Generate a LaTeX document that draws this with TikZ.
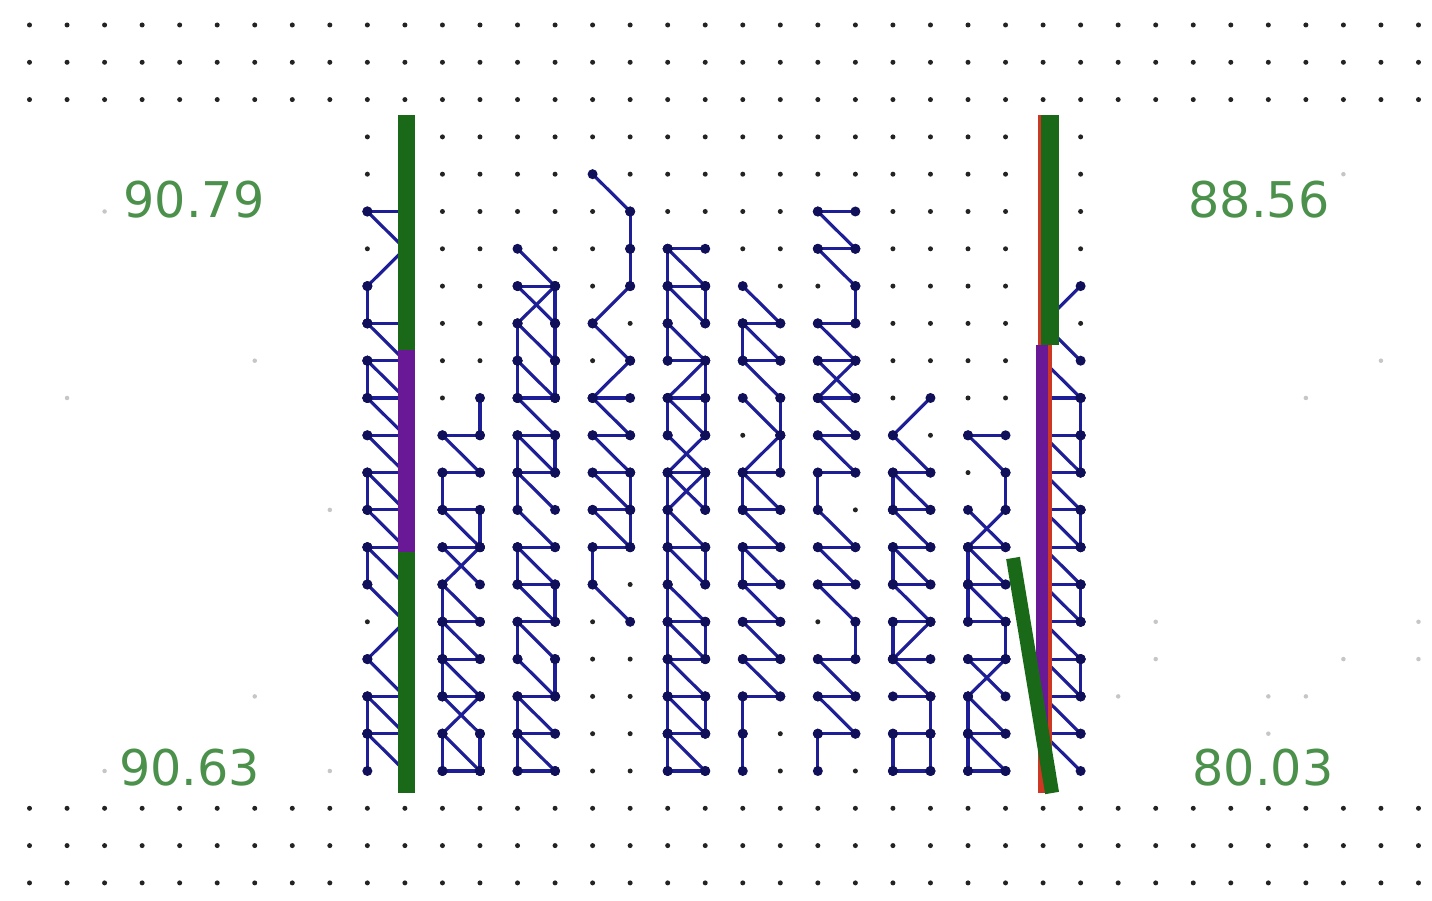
\documentclass[tikz,border=0pt]{standalone}
\usepackage{fontspec}
\setmainfont{DejaVu Sans}
\usepackage{tikz}
\definecolor{dotgrey}{RGB}{35,35,35}
\definecolor{trailblue}{RGB}{30,30,150}
\definecolor{stopblue}{RGB}{15,15,90}
\definecolor{bargreen}{RGB}{25,105,25}
\definecolor{barpurple}{RGB}{105,25,150}
\definecolor{barred}{RGB}{205,55,35}
\definecolor{scoregreen}{RGB}{75,145,75}

% edges of the ten trails, grid column-row
\def\trails{%
  9-5/10-5, 9-5/10-6, 10-6/9-7, 9-7/9-8, 9-8/10-8, 9-8/10-9, 9-9/10-9, 9-9/9-10,
  9-9/10-10, 9-10/10-10, 9-10/10-11, 9-11/10-11, 9-11/10-12, 9-12/10-12, 9-12/9-13,
  9-12/10-13, 9-13/10-13, 9-13/10-14, 9-14/10-14, 9-14/9-15, 9-14/10-15, 9-15/10-16,
  10-16/9-17, 9-17/10-18, 9-18/10-18, 9-18/9-19, 9-18/10-19, 9-19/10-19, 9-19/10-20,
  9-19/9-20,
  12-10/12-11, 11-11/12-11, 11-11/12-12, 11-12/12-12, 11-12/11-13, 11-13/12-13,
  11-13/12-14, 12-13/12-14, 11-14/12-14, 11-14/12-15, 12-14/11-15, 11-15/11-16,
  11-15/12-16, 11-16/12-16, 11-16/12-17, 11-16/11-17, 11-17/12-17, 11-17/11-18,
  11-17/12-18, 11-18/12-18, 11-18/12-19, 12-18/11-19, 11-19/11-20, 11-19/12-20,
  12-19/12-20, 11-20/12-20,
  13-6/14-7, 13-7/14-7, 13-7/14-8, 14-7/13-8, 14-7/14-8, 13-8/13-9, 13-8/14-9,
  14-8/14-9, 13-9/14-10, 13-9/13-10, 14-9/14-10, 13-10/14-10, 13-10/14-11, 13-11/14-11,
  13-11/13-12, 13-11/14-12, 14-11/14-12, 13-12/14-12, 13-12/14-13, 13-12/13-13,
  13-13/14-14, 13-14/14-14, 13-14/13-15, 13-14/14-15, 13-15/14-15, 13-15/14-16,
  14-15/14-16, 13-16/14-16, 13-16/13-17, 13-16/14-17, 13-17/14-18, 14-17/14-18,
  13-18/14-18, 13-18/13-19, 13-18/14-19, 13-19/14-19, 13-19/13-20, 13-19/14-20,
  13-20/14-20,
  15-4/16-5, 16-5/16-6, 16-6/16-7, 16-7/15-8, 15-8/16-9, 16-9/15-10, 15-10/16-10,
  15-10/16-11, 15-11/16-11, 15-11/16-12, 15-12/16-12, 16-12/16-13, 15-12/16-13,
  15-13/16-13, 15-13/16-14, 16-13/16-14, 15-14/16-14, 15-14/15-15, 15-15/16-16,
  17-6/18-6, 17-6/17-7, 17-6/18-7, 17-7/18-7, 17-7/18-8, 18-7/18-8, 17-7/17-8,
  17-8/18-9, 17-8/17-9, 17-9/18-9, 18-9/18-10, 18-9/17-10, 17-10/18-10,
  17-10/18-11, 17-10/17-11, 18-10/18-11, 17-11/18-12, 18-11/17-12, 17-12/18-12,
  17-12/18-13, 18-12/17-13, 17-12/17-13, 18-12/18-13, 17-13/18-14, 17-13/17-14,
  17-14/18-14, 17-14/18-15, 17-14/17-15, 18-14/18-15, 17-15/18-16, 17-15/17-16,
  17-16/18-16, 17-16/18-17, 18-16/18-17, 17-16/17-17, 17-17/18-17, 17-17/18-18,
  17-17/17-18, 17-18/18-18, 17-18/18-19, 17-18/17-19, 18-18/18-19, 17-19/18-19,
  17-19/18-20, 17-19/17-20, 17-20/18-20,
  19-7/20-8, 19-8/20-8, 19-8/19-9, 19-8/20-9, 19-9/20-9, 19-9/20-10, 19-10/20-11,
  20-10/20-11, 20-11/19-12, 20-11/20-12, 19-12/20-12, 19-12/20-13, 19-12/19-13,
  19-13/20-13, 19-13/20-14, 19-14/20-14, 19-14/19-15, 19-14/20-15, 19-15/20-15,
  19-15/20-16, 19-16/20-16, 19-16/20-17, 19-17/20-17, 19-17/20-18, 19-18/20-18,
  19-18/19-19, 19-19/19-20,
  21-5/22-5, 21-5/22-6, 21-6/22-6, 21-6/22-7, 22-7/22-8, 21-8/22-8, 21-8/22-9,
  21-9/22-9, 21-9/22-10, 22-9/21-10, 21-10/22-10, 21-10/22-11, 21-11/22-11,
  21-11/22-12, 21-12/22-12, 21-12/21-13, 21-13/22-14, 21-14/22-14, 21-14/22-15,
  21-15/22-15, 21-15/22-16, 22-16/22-17, 21-17/22-17, 21-17/22-18, 21-18/22-18,
  21-18/22-19, 21-19/22-19, 21-19/21-20,
  24-10/23-11, 23-11/24-12, 23-12/24-12, 23-12/24-13, 23-12/23-13, 23-13/24-13,
  23-13/24-14, 23-14/24-14, 23-14/23-15, 23-14/24-15, 23-15/24-15, 23-15/24-16,
  23-16/24-16, 23-16/23-17, 24-16/23-17, 23-17/24-17, 23-17/24-18, 23-18/24-18,
  24-18/24-19, 23-19/24-19, 23-19/23-20, 24-19/24-20, 23-20/24-20,
  25-11/26-11, 25-11/26-12, 26-12/26-13, 25-13/26-14, 26-13/25-14, 25-14/26-14,
  25-14/25-15, 25-14/26-15, 25-15/26-15, 25-15/25-16, 25-15/26-16, 25-16/26-16,
  26-16/26-17, 25-17/26-17, 25-17/26-18, 26-17/25-18, 25-18/26-19, 25-18/25-19,
  25-19/26-19, 25-19/25-20, 25-19/26-20, 25-20/26-20,
  28-7/27-8, 27-8/28-9, 27-9/28-10, 27-10/28-10, 28-10/28-11, 27-11/28-11,
  27-11/28-12, 28-11/28-12, 27-12/28-12, 27-12/28-13, 27-13/28-13, 27-13/28-14,
  28-13/28-14, 27-14/28-14, 27-14/28-15, 27-15/28-15, 27-15/28-16, 28-15/28-16,
  27-16/28-16, 27-16/28-17, 27-17/28-17, 27-17/28-18, 28-17/28-18, 27-18/28-18,
  27-18/28-19, 27-19/28-19, 27-19/28-20}

\begin{document}
\begin{tikzpicture}[x=0.7508cm,y=-0.746cm,
    trail/.style={trailblue,line width=1.8pt,line cap=round},
    stopdot/.style={fill=stopblue},
    griddot/.style={fill=dotgrey},
    faintdot/.style={fill=gray!45},
    score/.style={scoregreen,font=\fontsize{28}{30}\selectfont}]
  \fill[white] (-0.786,-0.670) rectangle (37.36,23.485);
  \useasboundingbox (-0.786,-0.670) rectangle (37.36,23.485);
  % dot grid
  \foreach \j in {0,1,2,21,22,23}
    \foreach \i in {0,...,37}
      \fill[griddot] (\i,\j) circle (0.05cm);
  \foreach \j in {3,...,20}
    \foreach \i in {9,...,28} {
      \coordinate (g\i-\j) at (\i,\j);
      \fill[griddot] (g\i-\j) circle (0.05cm);
    }
  \foreach \i/\j in {2/5,6/9,1/10,8/13,6/18,2/20,8/20,35/4,34/10,36/9,
                     30/16,30/17,29/18,33/18,34/18,35/17,37/16,37/17,33/19}
    \fill[faintdot] (\i,\j) circle (0.045cm);
  % trails
  \foreach \s/\e in \trails
    \draw[trail] (g\s) -- (g\e);
  \foreach \s/\e in \trails
    \fill[stopdot] (g\s) circle (0.1cm) (g\e) circle (0.1cm);
  % bars
  \draw[bargreen,line width=0.34cm] (10.03,2.413) -- (10.03,8.713);
  \draw[barpurple,line width=0.34cm] (10.03,8.713) -- (10.03,14.129);
  \draw[bargreen,line width=0.34cm] (10.03,14.129) -- (10.03,20.59);
  \draw[barred,line width=0.28cm] (27.05,2.413) -- (27.05,20.59);
  \draw[bargreen,line width=0.36cm] (27.18,2.413) -- (27.18,8.579);
  \draw[barpurple,line width=0.24cm] (26.97,8.579) -- (26.97,18.9);
  \draw[bargreen,line width=0.28cm] (26.20,14.29) -- (27.24,20.59);
  % scores
  \node[score] (tl) at (4.38,4.69) {90.79};
  \node[score] (tr) at (32.75,4.69) {88.56};
  \node[score] (br) at (32.86,19.92) {80.03};
  \node[score] (bl) at (4.27,19.92) {90.63};
\end{tikzpicture}
\end{document}
